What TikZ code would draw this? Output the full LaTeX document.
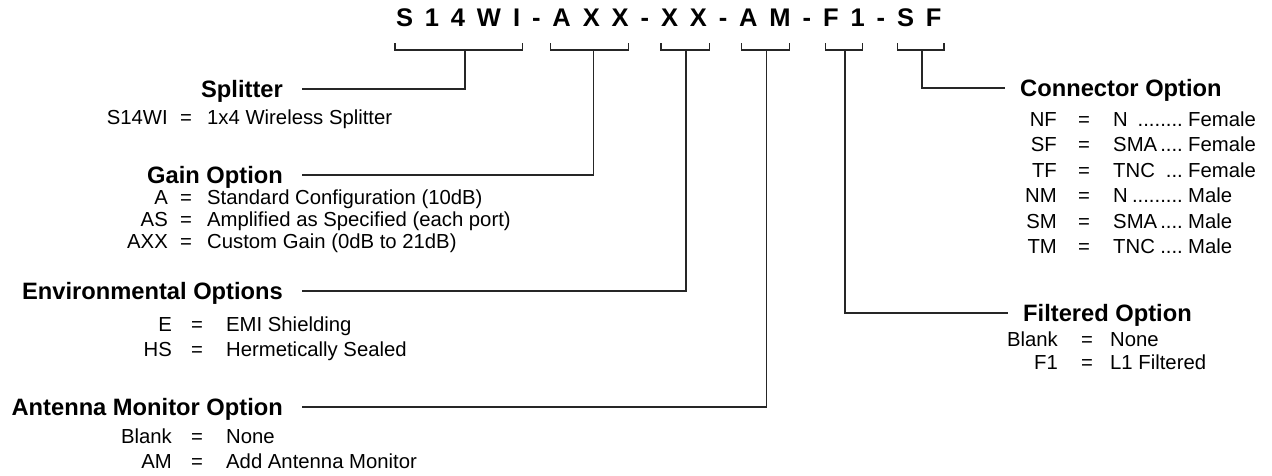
\documentclass[tikz,border=0pt]{standalone}
\usepackage{fontspec}
\setmainfont{Liberation Sans}
\tikzset{
  ln/.style={line width=1.3pt, draw=black!85, line cap=rect},
  codeletter/.style={font=\fontsize{25.5}{26}\selectfont\bfseries, inner sep=0pt, anchor=base},
  ttl/.style={font=\fontsize{23.7}{24}\selectfont\bfseries, inner sep=0pt},
  txt/.style={font=\fontsize{20.3}{21}\selectfont, inner sep=0pt},
}
\newcommand\optrow[7]{%
  \node[txt,anchor=base east] (#7c) at (#2,#1) {#5};
  \node[txt,anchor=base] (#7e) at (#3,#1) {=};
  \node[txt,anchor=base west] (#7d) at (#4,#1) {#6};
}
\newcommand\connrow[5]{%
  \optrow{#1}{1057}{1084}{1113}{#3}{#4}{#2}
  \node[txt,anchor=base east] (#2p) at (1183,#1) {#5};
}
\newcommand\connword[3]{%
  \node[txt,anchor=base west] (#2w) at (1188,#1) {#3};
}
\begin{document}
\begin{tikzpicture}[x=1pt,y=-1pt]
\useasboundingbox (0,0) rectangle (1272,475);

% code letters (uniform letter spacing)
\foreach \xx/\ll [count=\i] in {404.5/S,432/1,458/4,489/W,516.7/I,536.3/-,561.7/A,591.3/X,620.2/X,644.9/-,669.5/X,698.4/X,723/-,748.4/A,780.1/M,806.9/-,830.8/F,857.6/1,880.9/-,905.5/S,933.7/F}
  \node[codeletter] (c\i) at (\xx,26.7) {\ll};

% bracket coordinates
\coordinate (b1l) at (395,43.3);  \coordinate (b1r) at (522.7,43.3); \coordinate (b1m) at (465,50);
\coordinate (b2l) at (550.7,43.3); \coordinate (b2r) at (628.3,43.3); \coordinate (b2m) at (593.5,50);
\coordinate (b3l) at (661,43.3);  \coordinate (b3r) at (709.3,43.3); \coordinate (b3m) at (686,50);
\coordinate (b4l) at (741.7,43.3); \coordinate (b4r) at (789.3,43.3); \coordinate (b4m) at (766.5,50);
\coordinate (b5l) at (825.7,43.3); \coordinate (b5r) at (862.3,43.3); \coordinate (b5m) at (845,50);
\coordinate (b6l) at (897.3,43.3); \coordinate (b6r) at (944,43.3);   \coordinate (b6m) at (922,50);
\foreach \b in {1,...,6}
  \draw[ln] (b\b l) -- ++(0,6.7) -| (b\b r);

% titles
\node[ttl,anchor=base east] (tSplit) at (283,97)  {Splitter};
\node[ttl,anchor=base east] (tGain)  at (283,183) {Gain Option};
\node[ttl,anchor=base east] (tEnv)   at (283,299) {Environmental Options};
\node[ttl,anchor=base east] (tAnt)   at (283,415) {Antenna Monitor Option};
\node[ttl,anchor=base west] (tConn)  at (1020,96) {Connector Option};
\node[ttl,anchor=base west] (tFilt)  at (1023,321) {Filtered Option};

% line end coordinates
\coordinate (eSplit) at (303,89);
\coordinate (eGain)  at (303,175);
\coordinate (eEnv)   at (303,291);
\coordinate (eAnt)   at (303,407);
\coordinate (eConn)  at (1004,88);
\coordinate (eFilt)  at (1007,313);

\draw[ln] (b1m) |- (eSplit);
\draw[ln] (b2m) |- (eGain);
\draw[ln] (b3m) |- (eEnv);
\draw[ln] (b4m) |- (eAnt);
\draw[ln] (b5m) |- (eFilt);
\draw[ln] (b6m) |- (eConn);

% left lists
\optrow{124}{168}{186}{207}{S14WI}{1x4 Wireless Splitter}{rs}
\optrow{204}{168}{186}{207}{A}{Standard Configuration (10dB)}{rga}
\optrow{226}{168}{186}{207}{AS}{Amplified as Specified (each port)}{rgb}
\optrow{248}{168}{186}{207}{AXX}{Custom Gain (0dB to 21dB)}{rgc}
\optrow{331}{172}{197}{226}{E}{EMI Shielding}{rea}
\optrow{356}{172}{197}{226}{HS}{Hermetically Sealed}{reb}
\optrow{443}{172}{197}{226}{Blank}{None}{raa}
\optrow{468}{172}{197}{226}{AM}{Add Antenna Monitor}{rab}

% connector list
\connrow{126}{rca}{NF}{N}{........}   \connword{126}{rca}{Female}
\connrow{151.5}{rcb}{SF}{SMA}{....}   \connword{151.5}{rcb}{Female}
\connrow{177}{rcc}{TF}{TNC}{...}      \connword{177}{rcc}{Female}
\connrow{202.5}{rcd}{NM}{N}{.........} \connword{202.5}{rcd}{Male}
\connrow{228}{rce}{SM}{SMA}{....}     \connword{228}{rce}{Male}
\connrow{253.5}{rcf}{TM}{TNC}{....}   \connword{253.5}{rcf}{Male}

% filtered list
\optrow{346}{1058}{1087}{1110}{Blank}{None}{rfa}
\optrow{369}{1058}{1087}{1110}{F1}{L1 Filtered}{rfb}
\end{tikzpicture}
\end{document}
